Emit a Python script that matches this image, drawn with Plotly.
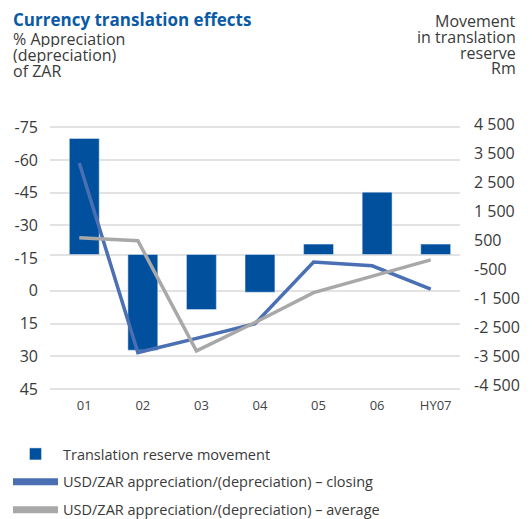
import plotly.graph_objects as go

# ---------------- data ----------------
categories = ["01", "02", "03", "04", "05", "06", "HY07"]
reserve_movement = [4000, -3300, -1900, -1300, 360, 2150, 360]          # Rm (right axis)
closing = [-58.6, 28.3, 21.8, 15.1, -13.2, -11.5, -0.8]                 # % (left axis)
average = [-24.4, -23.0, 27.5, 14.5, 0.8, -6.7, -14.2]                  # % (left axis)

left_tickvals = [-75, -60, -45, -30, -15, 0, 15, 30, 45]
left_ticktext = ["-75", "-60", "-45", "-30", "-15", "0", "15", "30", "45"]
grid_tickvals = [-75, -60, -45, -30, 0, 15, 30, 45]
right_tickvals = [4500, 3500, 2500, 1500, 500, -500, -1500, -2500, -3500, -4500]
right_ticktext = ["4 500", "3 500", "2 500", "1 500", "500", "-500",
                  "-1 500", "-2 500", "-3 500", "-4 500"]

names = ["Translation reserve movement",
         "USD/ZAR appreciation/(depreciation) \u2013 closing",
         "USD/ZAR appreciation/(depreciation) \u2013 average"]

# ---------------- style ----------------
OFF = 8                      # page body margin
W, H = 524, 511
ML, MR, MT, MB = 42, 72, 112, 127
PW, PH = W - ML - MR, H - MT - MB
BAR_C = "#00509e"
CLOSE_C = "#4a6fb3"
AVG_C = "#a8a8a8"
GRID_C = "#e2e2e2"
TXT_C = "#3a3a3a"
FONT = "Open Sans"


def px_x(px):
    return (px - OFF - ML) / PW


def px_y(py):
    return (H - MB - (py - OFF)) / PH


fig = go.Figure()

# bars on the main subplot (right-side axis)
fig.add_trace(go.Bar(x=categories, y=reserve_movement, marker_color=BAR_C,
                     width=0.51, xaxis="x", yaxis="y", showlegend=False,
                     name=names[0]))
# invisible trace to carry the grid axis
fig.add_trace(go.Scatter(x=categories, y=[None] * len(categories), xaxis="x",
                         yaxis="y3", showlegend=False, hoverinfo="skip",
                         mode="lines"))
# lines on the overlay subplot (left reversed axis)
fig.add_trace(go.Scatter(x=categories, y=closing, mode="lines",
                         line=dict(color=CLOSE_C, width=3.5),
                         xaxis="x2", yaxis="y2", showlegend=False, name=names[1]))
fig.add_trace(go.Scatter(x=categories, y=average, mode="lines",
                         line=dict(color=AVG_C, width=3.5),
                         xaxis="x2", yaxis="y2", showlegend=False, name=names[2]))

# legend entries
fig.add_trace(go.Bar(x=[None], y=[None], marker_color=BAR_C, name=names[0],
                     xaxis="x", yaxis="y", legendgroup="a"))
fig.add_trace(go.Scatter(x=[None], y=[None], mode="lines", name=names[1],
                         line=dict(color=CLOSE_C, width=7),
                         xaxis="x2", yaxis="y2", legendgroup="b"))
fig.add_trace(go.Scatter(x=[None], y=[None], mode="lines", name=names[2],
                         line=dict(color=AVG_C, width=7),
                         xaxis="x2", yaxis="y2", legendgroup="c"))

fig.update_layout(
    width=W, height=H,
    margin=dict(l=ML, r=MR, t=MT, b=MB, pad=0, autoexpand=False),
    paper_bgcolor="white", plot_bgcolor="white",
    font=dict(family=FONT, color=TXT_C, size=14),
    barmode="overlay",
    xaxis=dict(type="category", range=[-0.585, 6.415], showgrid=False,
               zeroline=False, showline=False, ticks="",
               tickfont=dict(size=13, color="#444444"), ticklabelstandoff=4),
    xaxis2=dict(type="category", range=[-0.5, 6.5], overlaying="x",
                showgrid=False, zeroline=False, showline=False,
                showticklabels=False, ticks=""),
    yaxis=dict(side="right", range=[-4741, 4638], tickmode="array",
               tickvals=right_tickvals, ticktext=right_ticktext,
               showgrid=False, zeroline=True, zerolinecolor=GRID_C,
               zerolinewidth=2, showline=False, ticks="",
               tickfont=dict(size=16, color=TXT_C), ticklabelstandoff=13),
    yaxis2=dict(side="left", overlaying="y", range=[46.38, -78.35],
                tickmode="array", tickvals=left_tickvals,
                ticktext=left_ticktext, showgrid=False, zeroline=False,
                showline=False, ticks="",
                tickfont=dict(size=16, color=TXT_C), ticklabelstandoff=11),
    yaxis3=dict(overlaying="y", range=[46.38, -78.35], tickmode="array",
                tickvals=grid_tickvals, showgrid=True, gridcolor=GRID_C,
                gridwidth=2, showticklabels=False, zeroline=False,
                showline=False, ticks=""),
    legend=dict(xref="container", yref="container", x=0, y=1 - 430 / H,
                xanchor="left", yanchor="top",
                orientation="v", tracegroupgap=6, bgcolor="rgba(0,0,0,0)",
                font=dict(size=14.5, color=TXT_C), itemwidth=45),
    showlegend=True,
)

annotations = [
    dict(text="<b>Currency translation effects</b>", x=px_x(11), y=px_y(6),
         xanchor="left", yanchor="top",
         font=dict(size=17, color="#0a5aa6")),
]
for txt, py in zip(["% Appreciation", "(depreciation)", "of ZAR"],
                   [38.5, 54.5, 70.5]):
    annotations.append(dict(text=txt, x=px_x(11), y=px_y(py), xanchor="left",
                            yanchor="middle", height=16,
                            font=dict(size=16, color=TXT_C)))
for txt, py in zip(["Movement", "in translation", "reserve", "Rm"],
                   [20.7, 36.7, 52.7, 68.3]):
    annotations.append(dict(text=txt, x=px_x(518), y=px_y(py), xanchor="right",
                            yanchor="middle", height=16,
                            font=dict(size=16, color=TXT_C)))
for a in annotations:
    a.update(xref="paper", yref="paper", showarrow=False)
fig.update_layout(annotations=annotations)

fig.write_html("out.html")
